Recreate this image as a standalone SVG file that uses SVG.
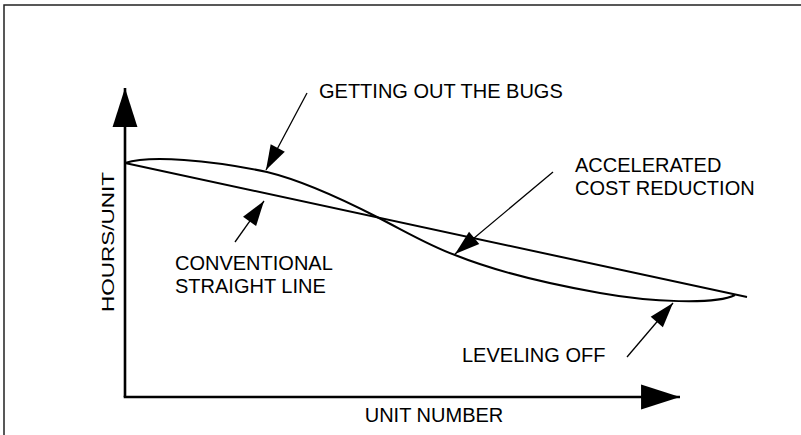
<svg xmlns="http://www.w3.org/2000/svg" width="801" height="435" viewBox="0 0 801 435">
  <style>
    .frame { stroke: #222; stroke-width: 1.5; fill: none; }
    .axis { stroke: #000; stroke-width: 2.6; fill: none; }
    .curve { stroke: #000; stroke-width: 2; fill: none; }
    .pointer { stroke: #000; stroke-width: 1.3; fill: none; marker-end: url(#pointerHead); }
    .label { font-family: "Liberation Sans", Arial, sans-serif; font-size: 20px; fill: #000; }
  </style>
  <defs>
    <marker id="axisHead" markerUnits="userSpaceOnUse" markerWidth="40" markerHeight="26" viewBox="0 -12 37 24" refX="36" refY="0" orient="auto">
      <path d="M0,-11.5 L36,0 L0,11.5 Z" fill="#000"/>
    </marker>
    <marker id="pointerHead" markerUnits="userSpaceOnUse" markerWidth="28" markerHeight="18" viewBox="0 -9 26 18" refX="25" refY="0" orient="auto">
      <path d="M0,-8 L25,0 L0,8 Z" fill="#000"/>
    </marker>
  </defs>
  <rect width="801" height="435" fill="#fff"/>

  <!-- outer frame -->
  <g id="frame">
    <path class="frame" d="M4,435 V5 H801"/>
  </g>

  <!-- axes -->
  <g id="axes">
    <path class="axis" d="M125,397 V88" marker-end="url(#axisHead)"/>
    <path class="axis" d="M123.7,397 H680" marker-end="url(#axisHead)"/>
  </g>

  <!-- plotted lines -->
  <g id="plot">
    <path id="straight" class="curve" d="M125,163 L747,297"/>
    <path id="learning" class="curve" d="M125,163 C150,155 210,160 267,172 C300,180 340,198 377,217 C410,234 430,246 455,255 C475,263 520,279 600,293 C650,302 715,305 735,295"/>
  </g>

  <!-- callout connectors -->
  <g id="connectors">
    <line class="pointer" x1="307" y1="93" x2="266" y2="170"/>
    <line class="pointer" x1="235" y1="242" x2="264" y2="201"/>
    <line class="pointer" x1="553" y1="172" x2="455" y2="254"/>
    <line class="pointer" x1="627" y1="357" x2="673" y2="303"/>
  </g>

  <!-- labels -->
  <g id="label-bugs">
    <text class="label" x="319" y="98">GETTING OUT THE BUGS</text>
  </g>
  <g id="label-accelerated">
    <text class="label" x="575" y="172">ACCELERATED</text>
    <text class="label" x="575" y="195">COST REDUCTION</text>
  </g>
  <g id="label-conventional">
    <text class="label" x="175" y="270">CONVENTIONAL</text>
    <text class="label" x="175" y="293">STRAIGHT LINE</text>
  </g>
  <g id="label-leveling">
    <text class="label" x="462" y="362">LEVELING OFF</text>
  </g>
  <g id="label-x-axis">
    <text class="label" x="434" y="422" text-anchor="middle">UNIT NUMBER</text>
  </g>
  <g id="label-y-axis">
    <text class="label" transform="translate(114,242) rotate(-90)" text-anchor="middle" style="font-size:16px" textLength="140" lengthAdjust="spacingAndGlyphs">HOURS/UNIT</text>
  </g>
</svg>
